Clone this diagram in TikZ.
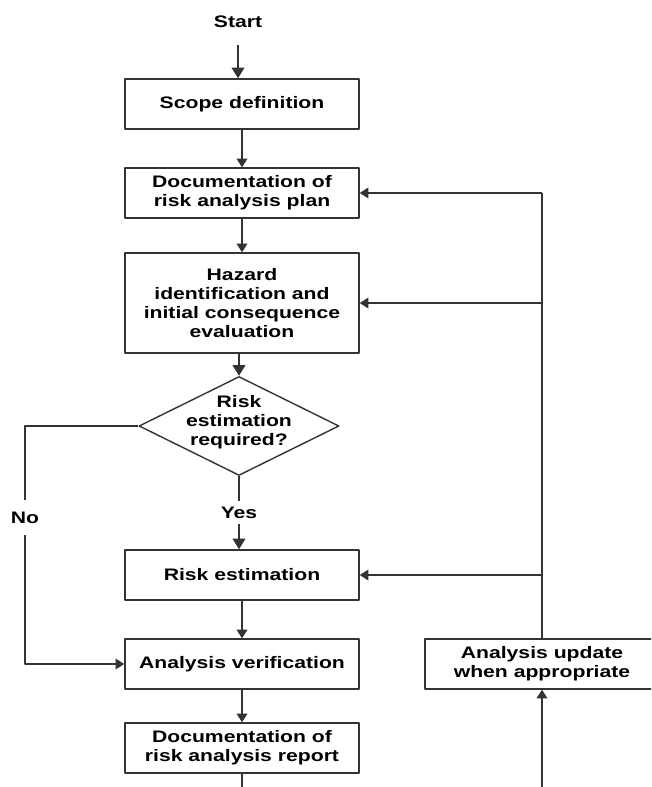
\documentclass[tikz,border=0pt]{standalone}
\usepackage{fontspec}
\setmainfont[FakeStretch=1.27]{Liberation Sans}
\usetikzlibrary{arrows.meta,shapes.geometric}

\begin{document}
\begin{tikzpicture}[
  font={\bfseries\fontsize{12.5}{14.25}\selectfont},
  x=0.75pt, y=-0.75pt, % one reference pixel, y runs downward
  line join=round,
  line width=1.05pt,
  box/.style={draw=black!80, align=center, inner sep=2pt,
    minimum width=175.5pt, minimum height=37.5pt},
  tallbox/.style={box, minimum height=75pt},
  decision/.style={draw=black!80, diamond, inner sep=0pt,
    minimum width=150pt, minimum height=74.25pt},
  txt/.style={align=center, inner sep=4pt},
  link/.style={draw=black!80},
  flow/.style={link, -{Triangle[length=6.5pt,width=8pt]}},
  bigflow/.style={link, -{Triangle[length=8pt,width=9.5pt]}}
]
  % ---- page size ----
  \useasboundingbox (0,0) rectangle (651,787);
  \clip (0,0) rectangle (651,787);

  % ---- main column ----
  \node[txt] (start) at (238,22) {Start};
  \node[box] (scope) at (242,104) {Scope definition};
  \node[box] (plan) at (242,193) {Documentation of\\risk analysis plan};
  \node[tallbox] (hazard) at (242,303) {Hazard\\identification and\\initial consequence\\evaluation};
  \node[decision] (riskq) at (239,426) {};
  \node[txt] (riskqtext) at (239,422) {Risk\\estimation\\required?};
  \node[txt] (yes) at (239,512.5) {Yes};
  \node[txt, inner ysep=8.5pt] (no) at (25,517.5) {No};
  \node[box] (riskest) at (242,575) {Risk estimation};
  \node[box] (verify) at (242,664) {Analysis verification};
  \node[box] (report) at (242,748) {Documentation of\\risk analysis report};

  % ---- update box, cut by the right edge ----
  \node[box] (update) at (542,664) {Analysis update\\when appropriate};

  % ---- arrows down the column ----
  \draw[bigflow, shorten <=8pt] (start.south) -- (start.south |- scope.north);
  \foreach \a/\b in {scope/plan, plan/hazard, riskest/verify, verify/report} {
    \draw[flow] (\a.south) -- (\b.north);
  }
  \draw[bigflow] (riskq.north |- hazard.south) -- (riskq.north);

  % yes / no branches
  \draw[link] (riskq.south) -- (yes.north);
  \draw[bigflow] (yes.south) -- (yes.south |- riskest.north);
  \draw[link] (riskq.west) -| (no.north);
  \draw[flow] (no.south) |- (verify.west);

  % ---- loop back through the update ----
  \draw[flow] (report.south) -- ++(0,40) -| (update.south);
  \draw[link] (update.north) -- (update.north |- plan.east);
  \foreach \target in {plan,hazard,riskest} {
    \draw[flow] (update.north |- \target.east) -- (\target.east);
  }

\end{tikzpicture}
\end{document}
